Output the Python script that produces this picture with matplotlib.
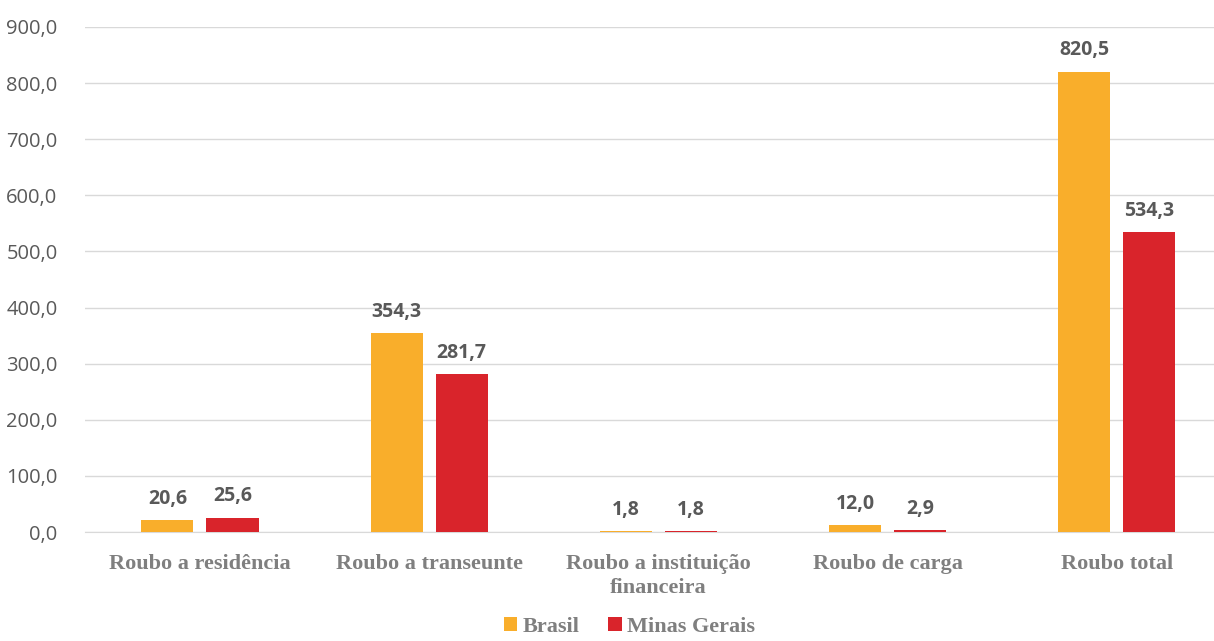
import matplotlib.pyplot as plt
import numpy as np

categories = ["Roubo a residência", "Roubo a transeunte", "Roubo a instituição\nfinanceira",
              "Roubo de carga", "Roubo total"]
brasil = [20.6, 354.3, 1.8, 12.0, 820.5]
minas = [25.6, 281.7, 1.8, 2.9, 534.3]
yticks = [0, 100, 200, 300, 400, 500, 600, 700, 800, 900]

fig = plt.figure(figsize=(12.14, 6.41), dpi=100)
ax = fig.add_axes([0.0703, 0.170, 0.9297, 0.788])

x = np.arange(len(categories))
w = 0.227
off = 0.142
b1 = ax.bar(x - off, brasil, w, color="#F9AE2B", label="Brasil", zorder=3)
b2 = ax.bar(x + off, minas, w, color="#D9242B", label="Minas Gerais", zorder=3)

for bars, vals in ((b1, brasil), (b2, minas)):
    for b, v in zip(bars, vals):
        ax.text(b.get_x() + b.get_width() / 2, v + 20, f"{v:.1f}".replace(".", ","),
                ha="center", va="bottom", fontsize=14, fontweight="bold",
                color="#595959", family="Open Sans")

ax.set_xlim(-0.5, 4.424)
ax.set_ylim(0, 900)
ax.set_yticks(yticks)
ax.set_yticklabels([f"{t:.1f}".replace(".", ",") for t in yticks],
                   fontsize=14.5, color="#595959", family="Open Sans")
ax.set_xticks(x)
ax.set_xticklabels(categories, fontsize=16, fontweight="bold", color="#7F7F7F",
                   family="Liberation Serif", linespacing=1.25)
ax.tick_params(length=0, axis="both")
ax.tick_params(axis="y", pad=20)
ax.tick_params(axis="x", pad=16)
ax.grid(axis="y", color="#D9D9D9", linewidth=1, zorder=0)
for s in ["top", "right", "left"]:
    ax.spines[s].set_visible(False)
ax.spines["bottom"].set_color("#D9D9D9")

leg = ax.legend(loc="lower center", bbox_to_anchor=(0.482, -0.225), ncol=2, frameon=False,
                prop={"family": "Liberation Serif", "weight": "bold", "size": 16},
                handlelength=0.6, handleheight=0.6, handletextpad=0.25, columnspacing=1.3,
                borderaxespad=0)
for t in leg.get_texts():
    t.set_color("#7F7F7F")

fig.savefig("out.png", dpi=100)
